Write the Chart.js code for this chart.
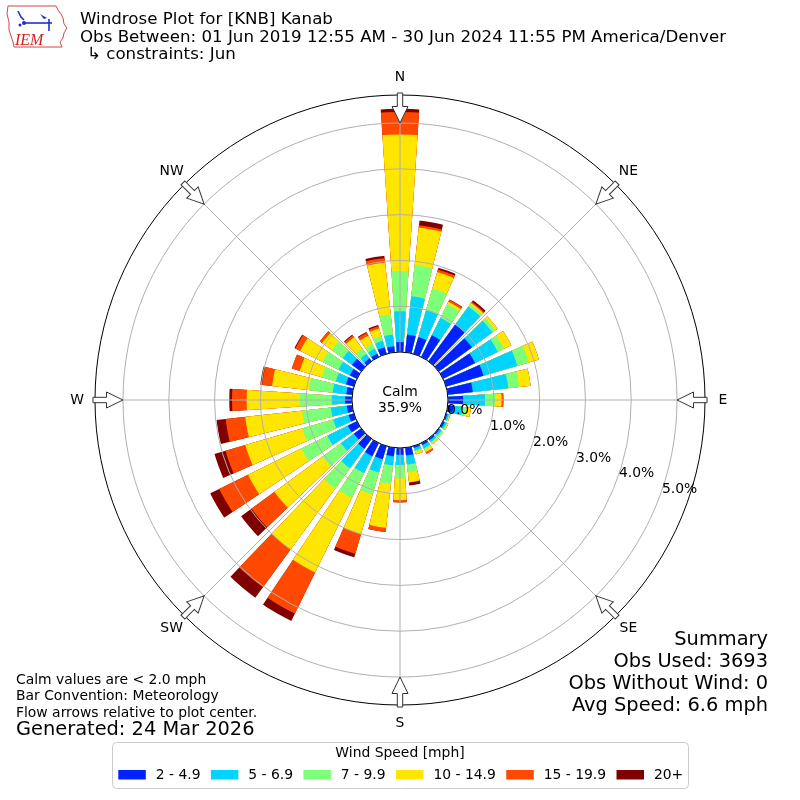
<!DOCTYPE html>
<html>
<head>
<meta charset="utf-8">
<script src="https://cdn.jsdelivr.net/npm/chart.js@4.4.1/dist/chart.umd.min.js"></script>
<style>
html,body{margin:0;padding:0;background:#fff;}
#wrap{width:800px;height:800px;position:relative;}
</style>
</head>
<body>
<div id="wrap"><canvas id="c" width="800" height="800"></canvas></div>
<script>
// ---- data (percent of observations) ----
const directions = [0,10,20,30,40,50,60,70,80,90,100,110,120,130,140,150,160,170,180,190,200,210,220,230,240,250,260,270,280,290,300,310,320,330,340,350];
const speedBins = ['2 - 4.9','5 - 6.9','7 - 9.9','10 - 14.9','15 - 19.9','20+'];
const binColors = ['#0022ff','#00d4ff','#7dff7a','#ffe600','#ff4800','#800000'];
const speed2to5 =   [0.22,0.39,0.38,0.53,1.00,0.90,0.78,0.85,0.55,0.33,0.13,0.03,0.04,0.03,0.04,0.05,0.04,0.17,0.15,0.19,0.30,0.32,0.27,0.20,0.22,0.12,0.12,0.15,0.13,0.18,0.17,0.25,0.08,0.08,0.15,0.13];
const speed5to7 =   [0.67,0.84,0.62,0.42,0.48,0.55,0.55,0.77,0.78,0.48,0.20,0.04,0.05,0.05,0.05,0.08,0.06,0.20,0.22,0.20,0.30,0.41,0.53,0.35,0.50,0.35,0.35,0.29,0.30,0.23,0.28,0.25,0.12,0.12,0.15,0.26];
const speed7to10 =  [0.88,0.68,0.49,0.34,0.06,0.08,0.15,0.26,0.24,0.22,0.08,0.01,0.02,0.04,0.03,0.03,0.03,0.17,0.29,0.41,0.50,0.60,0.55,0.50,0.63,0.70,0.63,0.70,0.52,0.32,0.39,0.30,0.15,0.12,0.11,0.44];
const speed10to15 = [2.98,0.83,0.37,0.05,0.04,0.06,0.18,0.23,0.25,0.14,0.10,0.02,0.02,0.00,0.03,0.06,0.06,0.22,0.48,0.96,0.90,1.82,1.65,1.30,1.30,1.30,1.25,1.16,0.81,0.50,0.54,0.26,0.30,0.20,0.17,1.14];
const speed15to20 = [0.49,0.05,0.06,0.05,0.03,0.00,0.00,0.00,0.00,0.04,0.00,0.00,0.00,0.00,0.00,0.04,0.00,0.01,0.05,0.09,0.45,1.00,1.02,0.62,0.70,0.45,0.43,0.32,0.22,0.18,0.12,0.06,0.05,0.07,0.05,0.10];
const speed20plus = [0.07,0.10,0.04,0.01,0.04,0.00,0.00,0.00,0.00,0.00,0.00,0.00,0.00,0.00,0.00,0.00,0.00,0.06,0.00,0.00,0.08,0.18,0.28,0.28,0.22,0.25,0.20,0.06,0.04,0.00,0.02,0.00,0.02,0.02,0.03,0.05];
const calmPercent = 35.9;
const tickValues = [0,1,2,3,4,5];
const tickLabels = ['0.0%','1.0%','2.0%','3.0%','4.0%','5.0%'];
const compassLabels = ['N','NE','E','SE','S','SW','W','NW'];
const compassBearings = [0,45,90,135,180,225,270,315];
const titleLines = ['Windrose Plot for [KNB] Kanab','Obs Between: 01 Jun 2019 12:55 AM - 30 Jun 2024 11:55 PM America/Denver','\u21b3 constraints: Jun'];
const noteLines = ['Calm values are < 2.0 mph','Bar Convention: Meteorology','Flow arrows relative to plot center.'];
const generatedText = 'Generated: 24 Mar 2026';
const summaryLines = ['Summary','Obs Used: 3693','Obs Without Wind: 0','Avg Speed: 6.6 mph'];
const legendTitle = 'Wind Speed [mph]';

// ---- scale geometry (not data) ----
const R_MIN = -1.048;   // leaves the calm hole in the centre
const R_MAX = 5.611;    // outer frame of the polar axis
const BAR_OPEN = 7.6;   // degrees of each 10-degree sector that the bar fills

const series = [speed2to5, speed5to7, speed7to10, speed10to15, speed15to20, speed20plus];
const datasets = series.map((vals, k) => ({
  label: speedBins[k],
  data: directions.map((d, i) => {
    let s = 0;
    for (let j = 0; j <= k; j++) s += series[j][i];
    return +s.toFixed(4);
  }),
  backgroundColor: binColors[k],
  borderWidth: 0
}));

const FONT = '"DejaVu Sans", sans-serif';
const f = (px) => px + 'px ' + FONT;

const windrosePlugin = {
  id: 'windrose',
  beforeDatasetsDraw(chart) {
    const s = chart.scales.r, ctx = chart.ctx;
    ctx.save();
    ctx.beginPath();
    const h = BAR_OPEN / 2 * Math.PI / 180;
    directions.forEach(d => {
      const c = (d - 90) * Math.PI / 180;
      ctx.moveTo(s.xCenter, s.yCenter);
      ctx.arc(s.xCenter, s.yCenter, s.drawingArea + 2, c - h, c + h);
      ctx.closePath();
    });
    ctx.clip();
  },
  afterDatasetsDraw(chart) {
    const s = chart.scales.r, ctx = chart.ctx;
    ctx.restore();
    const r0 = s.getDistanceFromCenterForValue(0);
    ctx.save();
    ctx.strokeStyle = '#b0b0b0';
    ctx.lineWidth = 1;
    compassBearings.forEach(b => {
      const a = (b - 90) * Math.PI / 180;
      ctx.beginPath();
      ctx.moveTo(s.xCenter + Math.cos(a) * r0, s.yCenter + Math.sin(a) * r0);
      ctx.lineTo(s.xCenter + Math.cos(a) * s.drawingArea, s.yCenter + Math.sin(a) * s.drawingArea);
      ctx.stroke();
    });
    ctx.restore();
  },
  afterDraw(chart) {
    const s = chart.scales.r, ctx = chart.ctx;
    const cx = s.xCenter, cy = s.yCenter, rOut = s.drawingArea;
    const r0 = s.getDistanceFromCenterForValue(0);
    ctx.save();
    // calm circle
    ctx.beginPath();
    ctx.arc(cx, cy, r0, 0, Math.PI * 2);
    ctx.fillStyle = '#fff';
    ctx.fill();
    ctx.lineWidth = 1;
    ctx.strokeStyle = '#000';
    ctx.stroke();
    ctx.fillStyle = '#000';
    ctx.font = f(13.9);
    ctx.textAlign = 'center';
    ctx.textBaseline = 'middle';
    ctx.fillText('Calm', cx, cy - 8);
    ctx.fillText(calmPercent.toFixed(1) + '%', cx, cy + 8);

    // radial tick labels
    const la = 20.2 * Math.PI / 180;
    ctx.textAlign = 'left';
    ctx.textBaseline = 'bottom';
    tickValues.forEach((v, i) => {
      const r = s.getDistanceFromCenterForValue(v);
      ctx.fillText(tickLabels[i], cx + Math.cos(la) * r + 2, cy + Math.sin(la) * r + 1);
    });

    // flow arrows and compass labels
    compassBearings.forEach((b, i) => {
      const a = (b - 90) * Math.PI / 180;
      ctx.save();
      ctx.translate(cx + Math.cos(a) * (rOut + 2), cy + Math.sin(a) * (rOut + 2));
      ctx.rotate(a + Math.PI);
      ctx.beginPath();
      ctx.moveTo(0, -2.7); ctx.lineTo(13.5, -2.7); ctx.lineTo(13.5, -8);
      ctx.lineTo(30, 0); ctx.lineTo(13.5, 8); ctx.lineTo(13.5, 2.7); ctx.lineTo(0, 2.7);
      ctx.closePath();
      ctx.fillStyle = '#fff';
      ctx.fill();
      ctx.strokeStyle = '#333';
      ctx.lineWidth = 1;
      ctx.stroke();
      ctx.restore();
      ctx.fillStyle = '#000';
      ctx.font = f(13.9);
      ctx.textAlign = 'center';
      ctx.textBaseline = 'middle';
      ctx.fillText(compassLabels[i], cx + Math.cos(a) * 323, cy + Math.sin(a) * 323);
    });

    // title
    ctx.textAlign = 'left';
    ctx.textBaseline = 'middle';
    ctx.font = f(16.67);
    ctx.fillText(titleLines[0], 80, 20);
    ctx.fillText(titleLines[1], 80, 38);
    ctx.fillText(titleLines[2], 87, 55);

    // logo
    ctx.save();
    ctx.strokeStyle = '#d04848';
    ctx.lineWidth = 1;
    ctx.beginPath();
    const outline = [[8,6],[56,6],[58,10],[61,14],[63,18],[64,24],[67,28],[64,33],[63,38],[60,42],[62,47],[14,47],[13,42],[11,36],[9,30],[9,22],[7,14]];
    outline.forEach((p, i) => i ? ctx.lineTo(p[0], p[1]) : ctx.moveTo(p[0], p[1]));
    ctx.closePath();
    ctx.stroke();
    ctx.strokeStyle = '#1e2fd0';
    ctx.fillStyle = '#1e2fd0';
    ctx.lineWidth = 1.6;
    ctx.beginPath(); ctx.moveTo(24, 23); ctx.lineTo(52, 23); ctx.stroke();
    ctx.beginPath(); ctx.moveTo(18, 11); ctx.lineTo(21, 17); ctx.lineTo(24, 20); ctx.stroke();
    ctx.beginPath(); ctx.arc(24, 23, 2, 0, Math.PI * 2); ctx.fill();
    ctx.beginPath(); ctx.moveTo(40, 14); ctx.lineTo(47, 18); ctx.lineTo(44, 19); ctx.closePath(); ctx.fill();
    ctx.beginPath(); ctx.moveTo(49, 19); ctx.lineTo(49, 31); ctx.stroke();
    ctx.beginPath(); ctx.arc(20, 25, 1.5, 0, Math.PI * 2); ctx.fill();
    ctx.fillStyle = '#d42020';
    ctx.font = 'italic 16px "Liberation Serif", "DejaVu Serif", serif';
    ctx.textAlign = 'left';
    ctx.textBaseline = 'alphabetic';
    ctx.fillText('IEM', 15, 45);
    ctx.restore();

    // notes bottom-left
    ctx.fillStyle = '#000';
    ctx.textAlign = 'left';
    ctx.textBaseline = 'middle';
    ctx.font = f(13.9);
    noteLines.forEach((t, i) => ctx.fillText(t, 16, 680 + i * 16.5));
    ctx.font = f(19.4);
    ctx.fillText(generatedText, 16, 730);

    // summary bottom-right
    ctx.textAlign = 'right';
    ctx.font = f(19.4);
    summaryLines.forEach((t, i) => ctx.fillText(t, 768, 640 + i * 22));

    // legend
    const lx = 112.5, ly = 742.5, lw = 576, lh = 46;
    ctx.beginPath();
    if (ctx.roundRect) ctx.roundRect(lx, ly, lw, lh, 4); else ctx.rect(lx, ly, lw, lh);
    ctx.fillStyle = 'rgba(255,255,255,0.8)';
    ctx.fill();
    ctx.strokeStyle = '#cccccc';
    ctx.lineWidth = 1;
    ctx.stroke();
    ctx.fillStyle = '#000';
    ctx.font = f(13.9);
    ctx.textAlign = 'center';
    ctx.fillText(legendTitle, 400, 753);
    ctx.textAlign = 'left';
    let x = 118.3;
    chart.data.datasets.forEach(ds => {
      ctx.fillStyle = ds.backgroundColor;
      ctx.fillRect(x, 770, 27.5, 9.5);
      ctx.fillStyle = '#000';
      ctx.fillText(ds.label, x + 37.4, 775);
      x += 37.4 + ctx.measureText(ds.label).width + 10.4;
    });
    ctx.restore();
  }
};

new Chart(document.getElementById('c'), {
  type: 'polarArea',
  data: { labels: directions.map(d => d + '\u00b0'), datasets },
  options: {
    responsive: false,
    animation: false,
    layout: { padding: { left: 95, right: 95, top: 95, bottom: 95 } },
    plugins: { legend: { display: false }, tooltip: { enabled: false } },
    scales: {
      r: {
        type: 'radialLinear',
        min: R_MIN,
        max: R_MAX,
        startAngle: -5,
        afterBuildTicks: (sc) => { sc.ticks = tickValues.map(v => ({ value: v })).concat([{ value: R_MAX }]); },
        ticks: { display: false },
        grid: {
          z: 1,
          circular: true,
          lineWidth: 1,
          color: (c) => (c.tick && c.tick.value >= R_MAX - 1e-6) ? '#000000' : '#b0b0b0'
        },
        angleLines: { display: false },
        pointLabels: { display: false }
      }
    }
  },
  plugins: [windrosePlugin]
});
</script>
</body>
</html>
